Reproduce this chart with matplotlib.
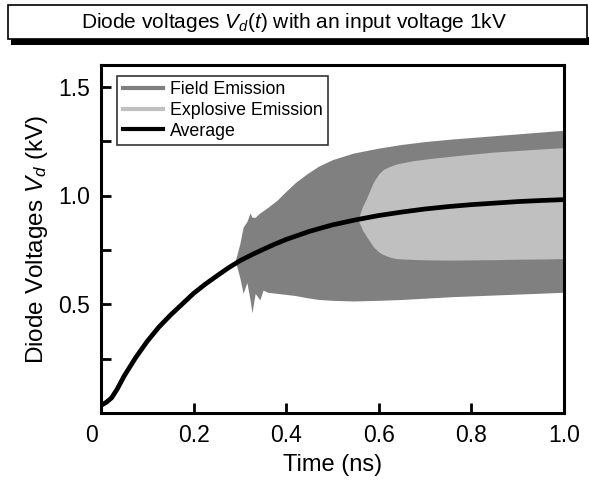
import matplotlib
matplotlib.use("Agg")
import matplotlib.pyplot as plt
from matplotlib.patches import Rectangle
from matplotlib.lines import Line2D
import matplotlib.transforms as mtransforms

plt.rcParams['font.family'] = ['Liberation Sans', 'DejaVu Sans']
plt.rcParams['mathtext.fontset'] = 'custom'
plt.rcParams['mathtext.it'] = 'Liberation Sans:italic'
plt.rcParams['mathtext.rm'] = 'Liberation Sans'

# ---- data ----
avg_t = [0.0, 0.012, 0.023, 0.035, 0.05, 0.075, 0.10, 0.125, 0.15, 0.175, 0.20, 0.225,
         0.25, 0.275, 0.30, 0.325, 0.35, 0.375, 0.40, 0.45, 0.50, 0.55, 0.60, 0.65,
         0.70, 0.75, 0.80, 0.85, 0.90, 0.95, 1.0]
avg_v = [0.035, 0.05, 0.07, 0.11, 0.17, 0.255, 0.33, 0.395, 0.45, 0.50, 0.55, 0.592,
         0.63, 0.667, 0.70, 0.727, 0.752, 0.776, 0.798, 0.835, 0.865, 0.888, 0.908, 0.924,
         0.938, 0.949, 0.958, 0.965, 0.972, 0.977, 0.981]

field_t = [0.29, 0.30, 0.307, 0.315, 0.322, 0.326, 0.333, 0.343, 0.35, 0.36, 0.38, 0.40,
           0.42, 0.445, 0.47, 0.50, 0.545, 0.60, 0.65, 0.70, 0.76, 0.82, 0.88, 0.94, 1.0]
field_hi = [0.70, 0.78, 0.855, 0.88, 0.92, 0.90, 0.90, 0.92, 0.93, 0.945, 0.978, 1.02,
            1.06, 1.10, 1.135, 1.165, 1.195, 1.218, 1.235, 1.248, 1.26, 1.27, 1.28, 1.29, 1.30]
field_lo = [0.70, 0.62, 0.55, 0.60, 0.52, 0.46, 0.55, 0.52, 0.565, 0.555, 0.55, 0.545,
            0.54, 0.53, 0.522, 0.518, 0.515, 0.518, 0.522, 0.528, 0.535, 0.54, 0.545, 0.55, 0.555]

expl_t = [0.555, 0.565, 0.574, 0.588, 0.60, 0.61, 0.625, 0.638, 0.674, 0.71, 0.754, 0.80,
          0.85, 0.90, 0.95, 1.0]
expl_hi = [0.89, 0.95, 0.99, 1.06, 1.10, 1.12, 1.135, 1.145, 1.16, 1.17, 1.18, 1.19,
           1.20, 1.207, 1.214, 1.22]
expl_lo = [0.89, 0.84, 0.81, 0.765, 0.74, 0.728, 0.716, 0.71, 0.706, 0.704, 0.703, 0.704,
           0.705, 0.707, 0.708, 0.71]

xticks = [0, 0.2, 0.4, 0.6, 0.8, 1.0]
xticklabels = ['0', '0.2', '0.4', '0.6', '0.8', '1.0']
yticks = [0.5, 1.0, 1.5]
yticklabels = ['0.5', '1.0', '1.5']
yminor = [0.25, 0.75, 1.25]
legend_labels = ['Field Emission', 'Explosive Emission', 'Average']

FIELD_C = '#808080'
EXPL_C = '#c0c0c0'

W, H = 589, 483
fig = plt.figure(figsize=(W / 100, H / 100), dpi=100)
ax = fig.add_axes([101 / W, 1 - 413 / H, (564 - 101) / W, (413 - 65) / H])

ax.fill_between(field_t, field_lo, field_hi, color=FIELD_C, lw=0, zorder=1)
ax.fill_between(expl_t, expl_lo, expl_hi, color=EXPL_C, lw=0, zorder=2)
ax.plot(avg_t, avg_v, color='black', lw=3.4, zorder=3, solid_capstyle='butt',
        solid_joinstyle='round')

ax.set_xlim(0, 1.0)
ax.set_ylim(0, 1.6)
ax.set_xticks(xticks)
ax.set_xticklabels(xticklabels)
ax.set_yticks(yticks)
ax.set_yticklabels(yticklabels)
ax.set_yticks(yminor, minor=True)
ax.tick_params(axis='both', which='major', direction='in', length=7, width=2,
               labelsize=16.5, pad=8)
ax.tick_params(axis='y', which='minor', direction='in', length=7, width=2)
for s in ax.spines.values():
    s.set_linewidth(2.2)

# shift the "0" label slightly left
lbl0 = ax.get_xticklabels()[0]
lbl0.set_transform(lbl0.get_transform() + mtransforms.ScaledTranslation(-0.09, 0, fig.dpi_scale_trans))

ax.set_xlabel('Time (ns)', fontsize=17, labelpad=5)
ax.set_ylabel('Diode Voltages $V_d$ (kV)', fontsize=17.5, labelpad=6)

handles = [Line2D([], [], color=FIELD_C, lw=3),
           Line2D([], [], color=EXPL_C, lw=3),
           Line2D([], [], color='black', lw=3)]
leg = ax.legend(handles, legend_labels, loc='upper left', bbox_to_anchor=(0.035, 0.968),
                fontsize=12.8, frameon=True, fancybox=False, handlelength=2.3,
                handletextpad=0.35, labelspacing=0.2, borderpad=0.3, borderaxespad=0)
leg.get_frame().set_edgecolor('black')
leg.get_frame().set_linewidth(1.2)

# title box with shadow
fig.patches.append(Rectangle((11 / W, 1 - 45 / H), (589 - 11) / W, 8 / H,
                             transform=fig.transFigure, facecolor='black', edgecolor='none'))
fig.patches.append(Rectangle((7.5 / W, 1 - 39 / H), (587 - 7.5) / W, 34 / H,
                             transform=fig.transFigure, facecolor='white', edgecolor='black', lw=1.2))
fig.text(294 / W, 1 - 22 / H, 'Diode voltages $V_d(t)$ with an input voltage 1kV',
         ha='center', va='center', fontsize=15)

fig.savefig('out.png', dpi=100)
